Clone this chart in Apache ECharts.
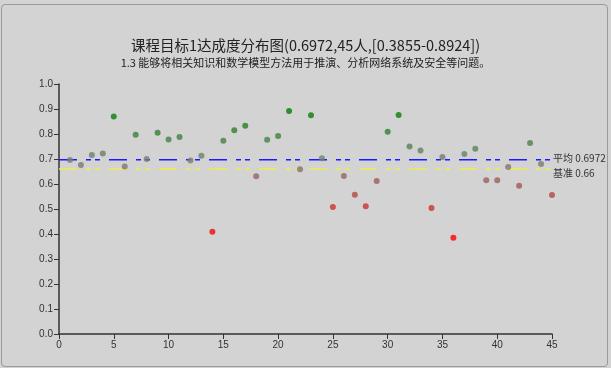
<!DOCTYPE html>
<html>
<head>
<meta charset="utf-8">
<script src="https://cdn.jsdelivr.net/npm/echarts@6/dist/echarts.min.js"></script>
<style>
html,body{margin:0;padding:0;background:#d3d3d3;}
#frame{position:absolute;left:1px;top:4px;width:607px;height:363px;border:1px solid #9a9a9a;border-radius:4px;box-sizing:border-box;}
#chart{position:absolute;left:0;top:0;width:611px;height:368px;}
</style>
</head>
<body>
<div id="frame"></div>
<div id="chart"></div>
<script>
var titleText = '课程目标1达成度分布图(0.6972,45人,[0.3855-0.8924])';
var subtitleText = '1.3 能够将相关知识和数学模型方法用于推演、分析网络系统及安全等问题。';
var studentIndex = [1,2,3,4,5,6,7,8,9,10,11,12,13,14,15,16,17,18,19,20,21,22,23,24,25,26,27,28,29,30,31,32,33,34,35,36,37,38,39,40,41,42,43,44,45];
var scores = [0.696,0.676,0.716,0.722,0.870,0.670,0.797,0.700,0.805,0.778,0.788,0.694,0.713,0.409,0.773,0.815,0.833,0.631,0.777,0.792,0.8924,0.659,0.875,0.703,0.508,0.632,0.557,0.511,0.612,0.809,0.876,0.750,0.734,0.504,0.708,0.3855,0.720,0.741,0.615,0.615,0.668,0.593,0.764,0.680,0.556];
var averageValue = 0.6972;
var baselineValue = 0.66;
var minScore = 0.3855, maxScore = 0.8924;
var xTicks = [0,45,5];
var yTicks = [0,1,0.1];

function lerp(a,b,t){return Math.round(a+(b-a)*t);}
function colorFor(v){
  var g=[120,130,120], c, t;
  if(v>=averageValue){ c=[0,128,0]; t=(v-averageValue)/(maxScore-averageValue); }
  else { c=[255,0,0]; t=(averageValue-v)/(averageValue-minScore); }
  t=Math.max(0,Math.min(1,t));
  return 'rgb('+lerp(g[0],c[0],t)+','+lerp(g[1],c[1],t)+','+lerp(g[2],c[2],t)+')';
}

var pts = studentIndex.map(function(x,i){return {value:[x,scores[i]], itemStyle:{color:colorFor(scores[i])}};});

var chart = echarts.init(document.getElementById('chart'), null, {renderer:'canvas'});
chart.setOption({
  backgroundColor:'transparent',
  animation:false,
  title:{
    text:titleText, subtext:subtitleText, left:'center', top:33, itemGap:5,
    textStyle:{fontSize:14.5,fontWeight:'normal',color:'#222',fontFamily:'Noto Sans CJK SC'},
    subtextStyle:{fontSize:11,color:'#222',fontFamily:'Noto Sans CJK SC'}
  },
  grid:{left:59,right:59,top:84,bottom:34,containLabel:false},
  xAxis:{
    type:'value', min:xTicks[0], max:xTicks[1], interval:xTicks[2],
    axisLine:{onZero:false,lineStyle:{color:'#333',width:1.5}},
    axisTick:{show:true,length:5,lineStyle:{color:'#333'}},
    axisLabel:{fontSize:10,color:'#333',margin:6},
    splitLine:{show:false}
  },
  yAxis:{
    type:'value', min:yTicks[0], max:yTicks[1], interval:yTicks[2],
    axisLine:{show:true,lineStyle:{color:'#333',width:1.5}},
    axisTick:{show:true,length:5,lineStyle:{color:'#333'}},
    axisLabel:{fontSize:10,color:'#333',margin:6,formatter:function(v){return v.toFixed(1);}},
    splitLine:{show:false}
  },
  series:[
    {
      type:'line', data:[[xTicks[0],averageValue],[xTicks[1],averageValue]], symbol:'none',
      lineStyle:{color:'#1a1aff',width:1.6,type:[18,9,5,4,5,9]},
      endLabel:{show:true,formatter:'平均 '+averageValue,color:'#333',fontSize:10,distance:1,offset:[0,-1],fontFamily:'Noto Sans CJK SC'},
      z:1, silent:true
    },
    {
      type:'line', data:[[xTicks[0],baselineValue],[xTicks[1],baselineValue]], symbol:'none',
      lineStyle:{color:'#eeee50',width:1.6,type:[18,9,5,4,5,9]},
      endLabel:{show:true,formatter:'基准 '+baselineValue,color:'#333',fontSize:10,distance:1,offset:[0,4],fontFamily:'Noto Sans CJK SC'},
      z:1, silent:true
    },
    {
      type:'scatter', data:pts, symbolSize:6, z:3
    }
  ]
});
</script>
</body>
</html>
